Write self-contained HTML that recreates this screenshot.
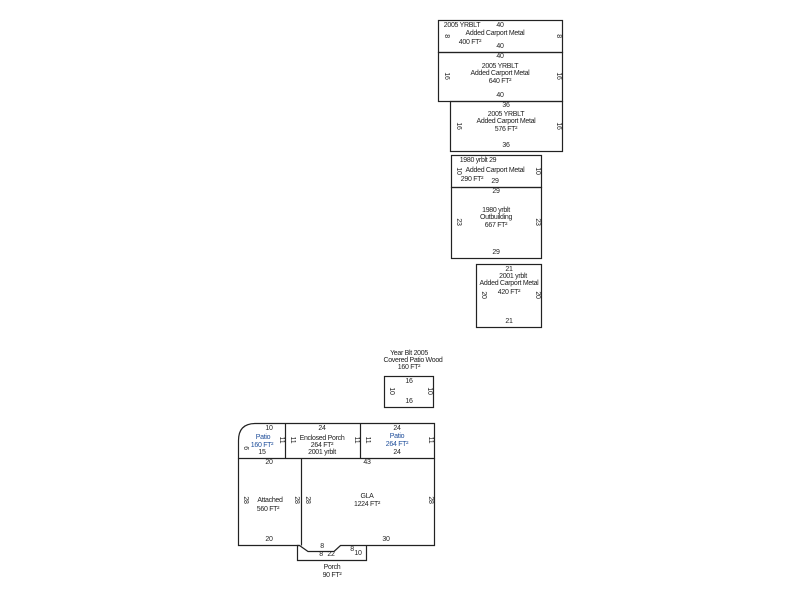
<!DOCTYPE html>
<html><head><style>
html,body{margin:0;padding:0;background:#fff;width:800px;height:600px;overflow:hidden}
svg text{font-family:"Liberation Sans",sans-serif;font-size:7px;fill:#222;letter-spacing:-0.3px}
.b{fill:#1f4e9a}
</style></head><body>
<svg width="800" height="600" viewBox="0 0 800 600" xmlns="http://www.w3.org/2000/svg">
<g fill="none" stroke="#222" stroke-width="1.2">
<rect x="438.5" y="20.5" width="124" height="32"/>
<rect x="438.5" y="52.5" width="124" height="49"/>
<rect x="450.5" y="101.5" width="112" height="50"/>
<rect x="451.5" y="155.5" width="90" height="32"/>
<rect x="451.5" y="187.5" width="90" height="71"/>
<rect x="476.5" y="264.5" width="65" height="63"/>
<rect x="384.5" y="376.5" width="49" height="31"/>
<path d="M285.5 423.5 H434.5 V458.5 H238.5 V440.5 Q238.5 423.5 255.5 423.5 H285.5 V458.5"/>
<line x1="360.5" y1="423.5" x2="360.5" y2="458.5"/>
<path d="M238.5 458.5 V545.5 H299.5 L308 551.5 H334 L340.5 545.5 H434.5 V458.5"/>
<line x1="301.5" y1="458.5" x2="301.5" y2="545.5"/>
<path d="M299.5 545.5 H297.5 V560.5 H366.5 V545.5"/>
</g>
<g text-anchor="middle">
<text x="462" y="27">2005 YRBLT</text><text x="500" y="27">40</text>
<text x="495" y="35">Added Carport Metal</text>
<text x="470" y="44">400 FT²</text>
<text x="500" y="48">40</text>
<text x="500" y="58">40</text>
<text x="500" y="68">2005 YRBLT</text>
<text x="500" y="75">Added Carport Metal</text>
<text x="500" y="83">640 FT²</text>
<text x="500" y="97">40</text>
<text x="506" y="107">36</text>
<text x="506" y="116">2005 YRBLT</text>
<text x="506" y="123">Added Carport Metal</text>
<text x="506" y="131">576 FT²</text>
<text x="506" y="147">36</text>
<text x="478" y="162">1980 yrblt 29</text>
<text x="495" y="172">Added Carport Metal</text>
<text x="472" y="181">290 FT²</text><text x="495" y="183">29</text>
<text x="496" y="193">29</text>
<text x="496" y="212">1980 yrblt</text>
<text x="496" y="219">Outbuilding</text>
<text x="496" y="227">667 FT²</text>
<text x="496" y="254">29</text>
<text x="509" y="271">21</text>
<text x="513" y="278">2001 yrblt</text>
<text x="509" y="285">Added Carport Metal</text>
<text x="509" y="294">420 FT²</text>
<text x="509" y="323">21</text>
<text x="409" y="355">Year Blt 2005</text>
<text x="413" y="362">Covered Patio Wood</text>
<text x="409" y="369">160 FT²</text>
<text x="409" y="383">16</text>
<text x="409" y="403">16</text>
<text x="269" y="430">10</text>
<text x="263" y="439" class="b">Patio</text>
<text x="262" y="447" class="b">160 FT²</text>
<text x="262" y="454">15</text>
<text x="322" y="430">24</text>
<text x="322" y="440">Enclosed Porch</text>
<text x="322" y="447">264 FT²</text>
<text x="322" y="454">2001 yrblt</text>
<text x="397" y="430">24</text>
<text x="397" y="438" class="b">Patio</text>
<text x="397" y="446" class="b">264 FT²</text>
<text x="397" y="454">24</text>
<text x="269" y="464">20</text>
<text x="367" y="464">43</text>
<text x="270" y="502">Attached</text>
<text x="268" y="511">560 FT²</text>
<text x="367" y="498">GLA</text>
<text x="367" y="506">1224 FT²</text>
<text x="269" y="541">20</text>
<text x="386" y="541">30</text>
<text x="322" y="548">8</text><text x="321" y="556">8</text><text x="331" y="556">22</text>
<text x="352" y="551">8</text><text x="358" y="555" font-size="5">10</text>
<text x="332" y="569">Porch</text>
<text x="332" y="577">90 FT²</text>
</g>
<g text-anchor="middle" font-size="7">
<text transform="translate(445,36) rotate(90)">8</text>
<text transform="translate(557,36) rotate(90)">8</text>
<text transform="translate(445,76) rotate(90)">16</text>
<text transform="translate(557,76) rotate(90)">16</text>
<text transform="translate(457,126) rotate(90)">16</text>
<text transform="translate(557,126) rotate(90)">16</text>
<text transform="translate(457,171) rotate(90)">10</text>
<text transform="translate(536,171) rotate(90)">10</text>
<text transform="translate(457,222) rotate(90)">23</text>
<text transform="translate(536,222) rotate(90)">23</text>
<text transform="translate(482,295) rotate(90)">20</text>
<text transform="translate(536,295) rotate(90)">20</text>
<text transform="translate(390,391) rotate(90)">10</text>
<text transform="translate(428,391) rotate(90)">10</text>
<text transform="translate(244,448) rotate(90)">6</text>
<text transform="translate(280,440) rotate(90)">11</text>
<text transform="translate(291,440) rotate(90)">11</text>
<text transform="translate(355,440) rotate(90)">11</text>
<text transform="translate(366,440) rotate(90)">11</text>
<text transform="translate(429,440) rotate(90)">11</text>
<text transform="translate(244,500) rotate(90)">28</text>
<text transform="translate(295,500) rotate(90)">28</text>
<text transform="translate(306,500) rotate(90)">28</text>
<text transform="translate(429,500) rotate(90)">28</text>
</g>
</svg>
</body></html>
